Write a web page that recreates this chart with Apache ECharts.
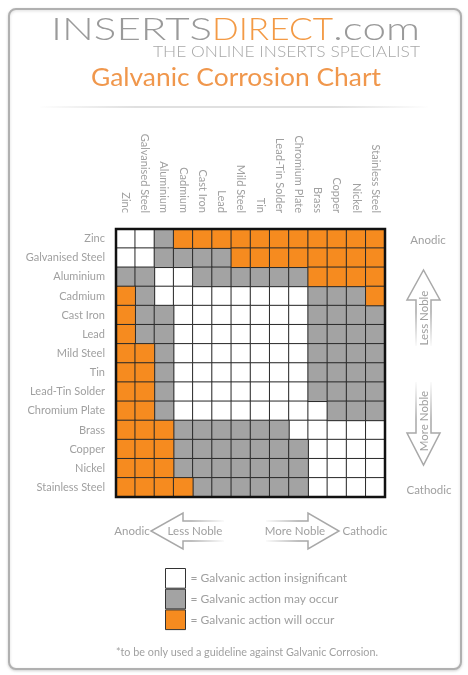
<!DOCTYPE html>
<html>
<head>
<meta charset="utf-8">
<script src="https://cdn.jsdelivr.net/npm/echarts@6/dist/echarts.min.js"></script>
<style>
html,body{margin:0;padding:0;background:#fff;}
#chart{width:468px;height:675px;}
</style>
</head>
<body>
<div id="chart"></div>
<script>
// ---- data ----
const metals = ['Zinc','Galvanised Steel','Aluminium','Cadmium','Cast Iron','Lead','Mild Steel','Tin','Lead-Tin Solder','Chromium Plate','Brass','Copper','Nickel','Stainless Steel'];
const actionLevels = ['= Galvanic action insignificant','= Galvanic action may occur','= Galvanic action will occur'];
// 0 = insignificant, 1 = may occur, 2 = will occur  (row = metal, column = metal)
const actionMatrix = [
  [0,0,1,2,2,2,2,2,2,2,2,2,2,2],
  [0,0,1,1,1,1,2,2,2,2,2,2,2,2],
  [1,1,0,0,1,1,1,1,1,1,2,2,2,2],
  [2,1,0,0,0,0,0,0,0,0,1,1,1,2],
  [2,1,1,0,0,0,0,0,0,0,1,1,1,1],
  [2,1,1,0,0,0,0,0,0,0,1,1,1,1],
  [2,2,1,0,0,0,0,0,0,0,1,1,1,1],
  [2,2,1,0,0,0,0,0,0,0,1,1,1,1],
  [2,2,1,0,0,0,0,0,0,0,1,1,1,1],
  [2,2,1,0,0,0,0,0,0,0,0,1,1,1],
  [2,2,2,1,1,1,1,1,1,0,0,0,0,0],
  [2,2,2,1,1,1,1,1,1,1,0,0,0,0],
  [2,2,2,1,1,1,1,1,1,1,0,0,0,0],
  [2,2,2,2,1,1,1,1,1,1,0,0,0,0]
];
const levelColors = ['#ffffff','#a3a3a3','#f68b1f'];

// ---- helpers ----
const GRAY_TXT = '#a0a0a0';
const LABEL_FONT = 'Lato, "Open Sans", sans-serif';
const LOGO_FONT = 'Lato, "DejaVu Sans", sans-serif';
const mctx = document.createElement('canvas').getContext('2d');
function fitScale(text, font, target){
  mctx.font = font;
  return target / mctx.measureText(text).width;
}

const series = actionLevels.map((name, lvl) => {
  const data = [];
  actionMatrix.forEach((row, r) => row.forEach((v, c) => { if (v === lvl) data.push([c, r, v]); }));
  return {
    name: name,
    type: 'heatmap',
    data: data,
    itemStyle: { color: levelColors[lvl], borderColor: '#2a2a2a', borderWidth: 1 },
    emphasis: { disabled: true },
    animation: false
  };
});

function arrowStroke(x0,y0,x1,y1){
  return new echarts.graphic.LinearGradient(x0,y0,x1,y1,[
    {offset:0,color:'#a8a8a8'},{offset:0.55,color:'#a8a8a8'},{offset:1,color:'rgba(168,168,168,0)'}
  ]);
}

function fitText(text, x, y, font, color, targetW, align){
  const s = fitScale(text, font, targetW);
  return { type:'text', x:x, y:y, scaleX:s, z:10,
    style:{ text:text, fill:color, font:font, verticalAlign:'middle', align:align || 'left' } };
}

const chart = echarts.init(document.getElementById('chart'), null, {renderer:'canvas'});
const option = {
  backgroundColor:'#fff',
  animation:false,
  grid:{ left:116, top:229, width:269, height:268 },
  xAxis:{
    type:'category', data:metals, position:'top',
    axisLine:{show:false}, axisTick:{show:false}, splitLine:{show:false},
    axisLabel:{ rotate:90, margin:16, color:GRAY_TXT, fontSize:11, fontFamily:LABEL_FONT, interval:0 }
  },
  yAxis:{
    type:'category', data:metals, inverse:true,
    axisLine:{show:false}, axisTick:{show:false}, splitLine:{show:false},
    axisLabel:{ margin:11, color:GRAY_TXT, fontSize:11, fontFamily:LABEL_FONT, interval:0 }
  },
  legend:{
    orient:'vertical', left:165, top:568, padding:0, itemWidth:20, itemHeight:19.7, itemGap:0,
    icon:'rect', selectedMode:false,
    textStyle:{ color:GRAY_TXT, fontSize:12, fontFamily:LABEL_FONT },
    itemStyle:{ borderColor:'#333', borderWidth:1 },
    data: actionLevels
  },
  series: series,
  graphic:[
    // outer frame
    { type:'rect', shape:{x:9,y:9,width:452,height:660,r:7}, z:0,
      style:{ fill:'#fff', stroke:'#b0b0b0', lineWidth:2, shadowBlur:3, shadowColor:'rgba(0,0,0,0.15)', shadowOffsetY:1 } },
    // header separator
    { type:'line', shape:{x1:40,y1:107,x2:428,y2:107}, z:1,
      style:{ lineWidth:2, stroke:new echarts.graphic.LinearGradient(0,0,1,0,[
        {offset:0,color:'rgba(220,220,220,0)'},{offset:0.25,color:'#e0e0e0'},{offset:0.75,color:'#e0e0e0'},{offset:1,color:'rgba(220,220,220,0)'}]) } },
    fitText('INSERTS', 51, 30, '300 30.5px ' + LOGO_FONT, '#9a9a9a', 161),
    fitText('DIRECT', 212, 30, '300 30.5px ' + LOGO_FONT, '#f39a45', 121),
    fitText('.com', 333, 30, '300 30.5px ' + LOGO_FONT, '#9a9a9a', 87),
    fitText('THE ONLINE INSERTS SPECIALIST', 153, 52, '300 16.5px ' + LOGO_FONT, '#a8a8a8', 267),
    fitText('Galvanic Corrosion Chart', 91, 78, '25.5px ' + LABEL_FONT, '#f0974c', 290),
    // grid outer border
    { type:'rect', shape:{x:116,y:229,width:269,height:268}, z:100,
      style:{ fill:null, stroke:'#111', lineWidth:2.5 } },
    // right side
    { type:'text', x:428, y:240, z:10, style:{ text:'Anodic', fill:GRAY_TXT, font:'11.5px ' + LABEL_FONT, align:'center', verticalAlign:'middle' } },
    { type:'text', x:429, y:490, z:10, style:{ text:'Cathodic', fill:GRAY_TXT, font:'11.5px ' + LABEL_FONT, align:'center', verticalAlign:'middle' } },
    { type:'polyline', z:10, shape:{ points:[[416,346],[416,300],[407,300],[423.5,270],[440,300],[431,300],[431,346]] },
      style:{ fill:null, stroke:arrowStroke(0,0,0,1), lineWidth:1.5 } },
    { type:'polyline', z:10, shape:{ points:[[416,382],[416,433],[407,433],[423.5,465],[440,433],[431,433],[431,382]] },
      style:{ fill:null, stroke:arrowStroke(0,1,0,0), lineWidth:1.5 } },
    { type:'text', x:424, y:318, rotation:Math.PI/2, z:11, style:{ text:'Less Noble', fill:GRAY_TXT, font:'11.5px ' + LABEL_FONT, align:'center', verticalAlign:'middle' } },
    { type:'text', x:424, y:421, rotation:Math.PI/2, z:11, style:{ text:'More Noble', fill:GRAY_TXT, font:'11.5px ' + LABEL_FONT, align:'center', verticalAlign:'middle' } },
    // bottom
    { type:'text', x:132, y:531, z:10, style:{ text:'Anodic', fill:GRAY_TXT, font:'11.5px ' + LABEL_FONT, align:'center', verticalAlign:'middle' } },
    { type:'text', x:365, y:531, z:10, style:{ text:'Cathodic', fill:GRAY_TXT, font:'11.5px ' + LABEL_FONT, align:'center', verticalAlign:'middle' } },
    { type:'polyline', z:10, shape:{ points:[[224,521],[183,521],[183,513],[151,531],[183,549],[183,541],[224,541]] },
      style:{ fill:null, stroke:arrowStroke(0,0,1,0), lineWidth:1.5 } },
    { type:'polyline', z:10, shape:{ points:[[266,521],[308,521],[308,513],[339,531],[308,549],[308,541],[266,541]] },
      style:{ fill:null, stroke:arrowStroke(1,0,0,0), lineWidth:1.5 } },
    { type:'text', x:195, y:531, z:11, style:{ text:'Less Noble', fill:GRAY_TXT, font:'11.5px ' + LABEL_FONT, align:'center', verticalAlign:'middle' } },
    { type:'text', x:295, y:531, z:11, style:{ text:'More Noble', fill:GRAY_TXT, font:'11.5px ' + LABEL_FONT, align:'center', verticalAlign:'middle' } },
    // footer
    { type:'text', x:247, y:653, z:10, style:{ text:'*to be only used a guideline against Galvanic Corrosion.', fill:GRAY_TXT, font:'10.8px ' + LABEL_FONT, align:'center', verticalAlign:'middle' } }
  ]
};
chart.setOption(option);
</script>
</body>
</html>
